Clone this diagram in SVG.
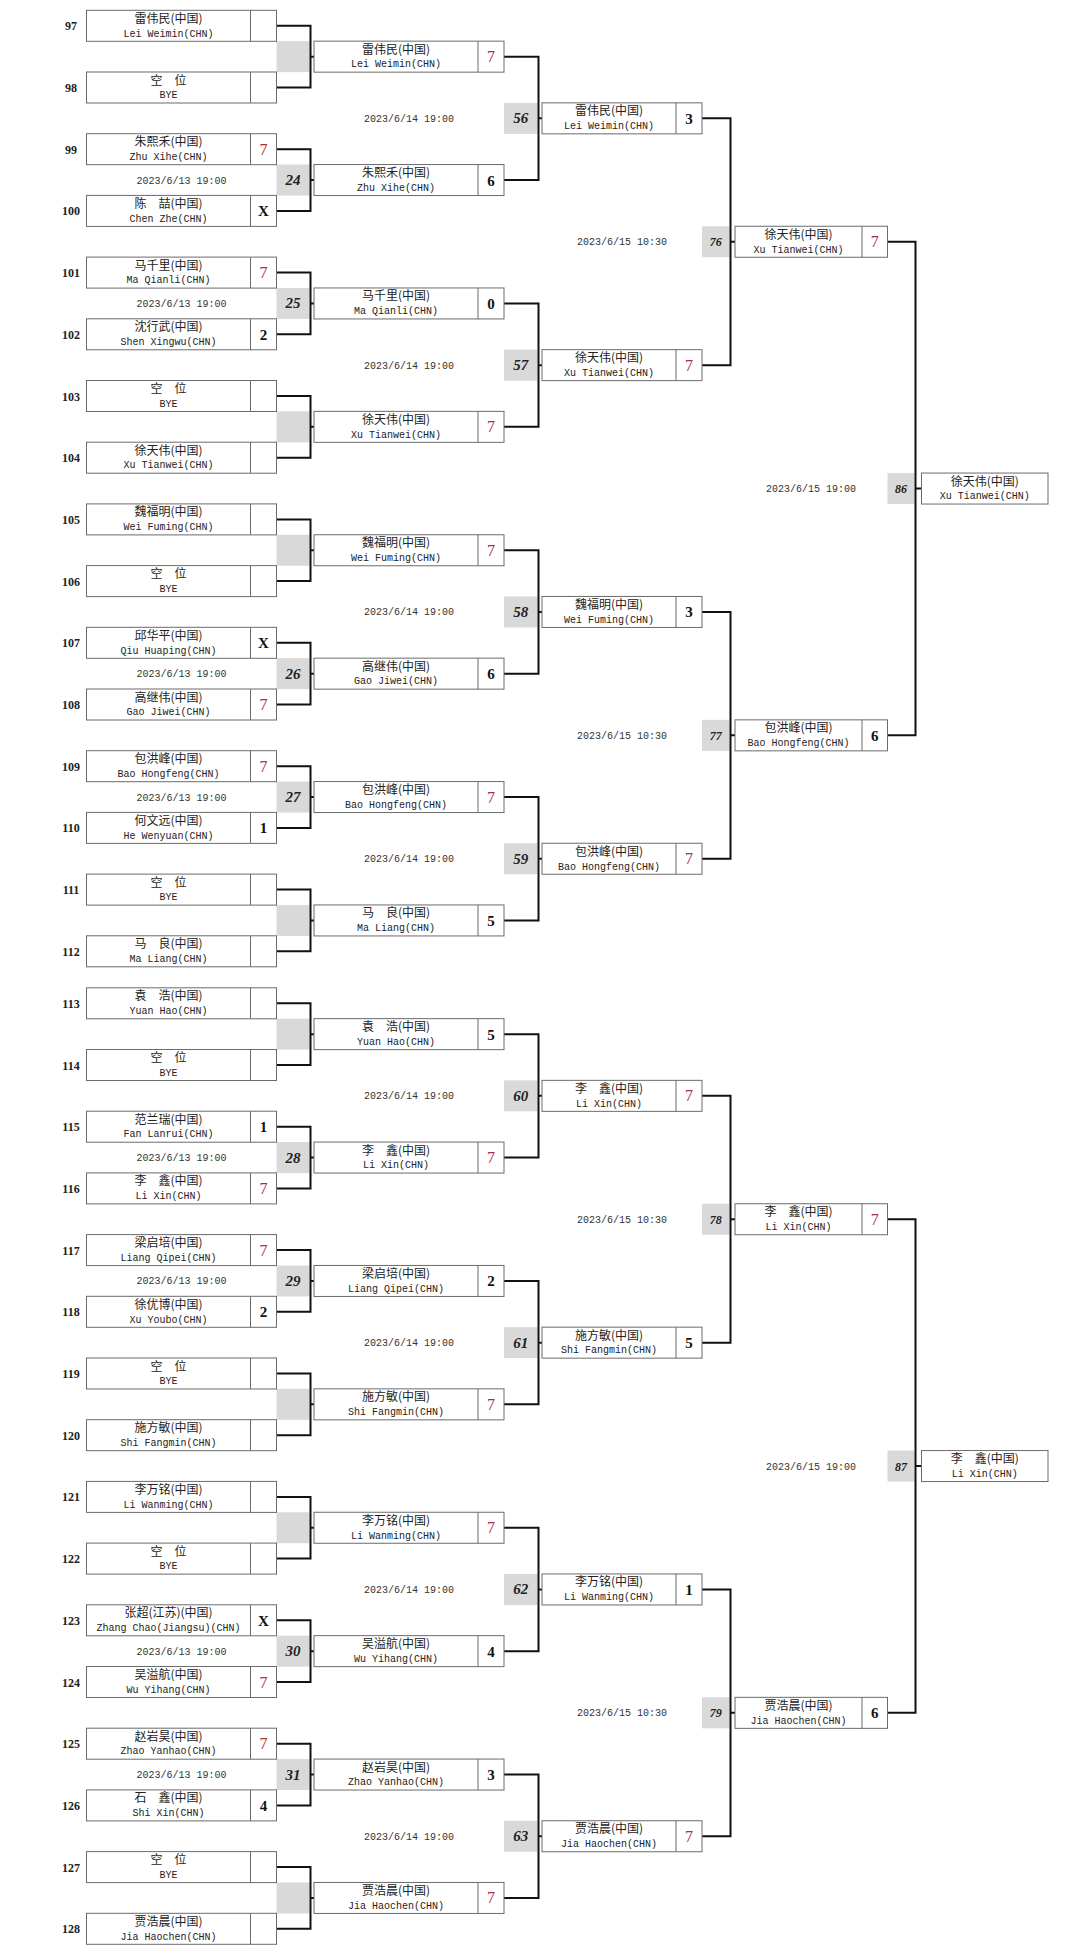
<svg xmlns="http://www.w3.org/2000/svg" width="1080" height="1960" viewBox="0 0 1080 1960">
<style>
.bx{fill:#fff;stroke:#6b6b6b;stroke-width:1}
.dv{stroke:#6b6b6b;stroke-width:1}
.cn{font-family:"Noto Sans CJK SC",sans-serif;font-size:12px;fill:#222;text-anchor:middle}
.en{font-family:"Liberation Mono",monospace;font-size:10px;fill:#222;text-anchor:middle}
.sc{font-family:"Liberation Serif",serif;font-size:15px;font-weight:bold;fill:#111;text-anchor:middle}
.r{fill:#a8323e;font-weight:normal;font-size:16px}
.sd{font-family:"Liberation Serif",serif;font-size:12px;font-weight:bold;fill:#222;text-anchor:middle}
.gr{fill:#d9d9d9}
.mn{font-family:"Liberation Serif",serif;font-size:15px;font-weight:bold;font-style:italic;fill:#222;text-anchor:middle}
.ms{font-size:12px}
.dt{font-family:"Liberation Mono",monospace;font-size:10px;fill:#333;text-anchor:middle}
.ln{fill:none;stroke:#111;stroke-width:2}
</style>
<rect width="1080" height="1960" fill="#fff"/>
<g id="match-boxes">
<rect class="gr" x="276.5" y="41.15" width="33" height="31"/>
<rect class="gr" x="276.5" y="164.55" width="33" height="31"/>
<rect class="gr" x="276.5" y="287.95" width="33" height="31"/>
<rect class="gr" x="276.5" y="411.35" width="33" height="31"/>
<rect class="gr" x="276.5" y="534.75" width="33" height="31"/>
<rect class="gr" x="276.5" y="658.15" width="33" height="31"/>
<rect class="gr" x="276.5" y="781.55" width="33" height="31"/>
<rect class="gr" x="276.5" y="904.95" width="33" height="31"/>
<rect class="gr" x="276.5" y="1018.65" width="33" height="31"/>
<rect class="gr" x="276.5" y="1142.05" width="33" height="31"/>
<rect class="gr" x="276.5" y="1265.45" width="33" height="31"/>
<rect class="gr" x="276.5" y="1388.85" width="33" height="31"/>
<rect class="gr" x="276.5" y="1512.25" width="33" height="31"/>
<rect class="gr" x="276.5" y="1635.65" width="33" height="31"/>
<rect class="gr" x="276.5" y="1759.05" width="33" height="31"/>
<rect class="gr" x="276.5" y="1882.45" width="33" height="31"/>
<rect class="gr" x="504" y="102.85" width="33.5" height="31"/>
<rect class="gr" x="504" y="349.65" width="33.5" height="31"/>
<rect class="gr" x="504" y="596.45" width="33.5" height="31"/>
<rect class="gr" x="504" y="843.25" width="33.5" height="31"/>
<rect class="gr" x="504" y="1080.35" width="33.5" height="31"/>
<rect class="gr" x="504" y="1327.15" width="33.5" height="31"/>
<rect class="gr" x="504" y="1573.95" width="33.5" height="31"/>
<rect class="gr" x="504" y="1820.75" width="33.5" height="31"/>
<rect class="gr" x="702" y="226.25" width="27.5" height="31"/>
<rect class="gr" x="702" y="719.85" width="27.5" height="31"/>
<rect class="gr" x="702" y="1203.75" width="27.5" height="31"/>
<rect class="gr" x="702" y="1697.35" width="27.5" height="31"/>
<rect class="gr" x="887.5" y="473.05" width="27" height="31"/>
<rect class="gr" x="887.5" y="1450.55" width="27" height="31"/>
<text class="mn" x="293" y="185.05">24</text>
<text class="mn" x="293" y="308.45">25</text>
<text class="mn" x="293" y="678.65">26</text>
<text class="mn" x="293" y="802.05">27</text>
<text class="mn" x="293" y="1162.55">28</text>
<text class="mn" x="293" y="1285.95">29</text>
<text class="mn" x="293" y="1656.15">30</text>
<text class="mn" x="293" y="1779.55">31</text>
<text class="mn" x="520.7" y="123.35">56</text>
<text class="mn" x="520.7" y="370.15">57</text>
<text class="mn" x="520.7" y="616.95">58</text>
<text class="mn" x="520.7" y="863.75">59</text>
<text class="mn" x="520.7" y="1100.85">60</text>
<text class="mn" x="520.7" y="1347.65">61</text>
<text class="mn" x="520.7" y="1594.45">62</text>
<text class="mn" x="520.7" y="1841.25">63</text>
<text class="mn ms" x="715.7" y="246.25">76</text>
<text class="mn ms" x="715.7" y="739.85">77</text>
<text class="mn ms" x="715.7" y="1223.75">78</text>
<text class="mn ms" x="715.7" y="1717.35">79</text>
<text class="mn ms" x="901" y="493.05">86</text>
<text class="mn ms" x="901" y="1470.55">87</text>
</g>
<g id="dates">
<text class="dt" x="181.5" y="183.55">2023/6/13 19:00</text>
<text class="dt" x="181.5" y="306.95">2023/6/13 19:00</text>
<text class="dt" x="181.5" y="677.15">2023/6/13 19:00</text>
<text class="dt" x="181.5" y="800.55">2023/6/13 19:00</text>
<text class="dt" x="181.5" y="1161.05">2023/6/13 19:00</text>
<text class="dt" x="181.5" y="1284.45">2023/6/13 19:00</text>
<text class="dt" x="181.5" y="1654.65">2023/6/13 19:00</text>
<text class="dt" x="181.5" y="1778.05">2023/6/13 19:00</text>
<text class="dt" x="409" y="121.85">2023/6/14 19:00</text>
<text class="dt" x="409" y="368.65">2023/6/14 19:00</text>
<text class="dt" x="409" y="615.45">2023/6/14 19:00</text>
<text class="dt" x="409" y="862.25">2023/6/14 19:00</text>
<text class="dt" x="409" y="1099.35">2023/6/14 19:00</text>
<text class="dt" x="409" y="1346.15">2023/6/14 19:00</text>
<text class="dt" x="409" y="1592.95">2023/6/14 19:00</text>
<text class="dt" x="409" y="1839.75">2023/6/14 19:00</text>
<text class="dt" x="622" y="245.25">2023/6/15 10:30</text>
<text class="dt" x="622" y="738.85">2023/6/15 10:30</text>
<text class="dt" x="622" y="1222.75">2023/6/15 10:30</text>
<text class="dt" x="622" y="1716.35">2023/6/15 10:30</text>
<text class="dt" x="811" y="492.05">2023/6/15 19:00</text>
<text class="dt" x="811" y="1469.55">2023/6/15 19:00</text>
</g>
<g id="connectors" class="ln">
<path d="M276.5 25.8H310.5V87.5H276.5M310.5 56.65H314"/>
<path d="M276.5 149.2H310.5V210.9H276.5M310.5 180.05H314"/>
<path d="M276.5 272.6H310.5V334.3H276.5M310.5 303.45H314"/>
<path d="M276.5 396H310.5V457.7H276.5M310.5 426.85H314"/>
<path d="M276.5 519.4H310.5V581.1H276.5M310.5 550.25H314"/>
<path d="M276.5 642.8H310.5V704.5H276.5M310.5 673.65H314"/>
<path d="M276.5 766.2H310.5V827.9H276.5M310.5 797.05H314"/>
<path d="M276.5 889.6H310.5V951.3H276.5M310.5 920.45H314"/>
<path d="M276.5 1003.3H310.5V1065H276.5M310.5 1034.15H314"/>
<path d="M276.5 1126.7H310.5V1188.4H276.5M310.5 1157.55H314"/>
<path d="M276.5 1250.1H310.5V1311.8H276.5M310.5 1280.95H314"/>
<path d="M276.5 1373.5H310.5V1435.2H276.5M310.5 1404.35H314"/>
<path d="M276.5 1496.9H310.5V1558.6H276.5M310.5 1527.75H314"/>
<path d="M276.5 1620.3H310.5V1682H276.5M310.5 1651.15H314"/>
<path d="M276.5 1743.7H310.5V1805.4H276.5M310.5 1774.55H314"/>
<path d="M276.5 1867.1H310.5V1928.8H276.5M310.5 1897.95H314"/>
<path d="M504 56.65H538.5V180.05H504M538.5 118.35H542"/>
<path d="M504 303.45H538.5V426.85H504M538.5 365.15H542"/>
<path d="M504 550.25H538.5V673.65H504M538.5 611.95H542"/>
<path d="M504 797.05H538.5V920.45H504M538.5 858.75H542"/>
<path d="M504 1034.15H538.5V1157.55H504M538.5 1095.85H542"/>
<path d="M504 1280.95H538.5V1404.35H504M538.5 1342.65H542"/>
<path d="M504 1527.75H538.5V1651.15H504M538.5 1589.45H542"/>
<path d="M504 1774.55H538.5V1897.95H504M538.5 1836.25H542"/>
<path d="M702 118.35H730.5V365.15H702M730.5 241.75H735"/>
<path d="M702 611.95H730.5V858.75H702M730.5 735.35H735"/>
<path d="M702 1095.85H730.5V1342.65H702M730.5 1219.25H735"/>
<path d="M702 1589.45H730.5V1836.25H702M730.5 1712.85H735"/>
<path d="M887.5 241.75H915.5V735.35H887.5M915.5 488.55H921.5"/>
<path d="M887.5 1219.25H915.5V1712.85H887.5M915.5 1466.05H921.5"/>
</g>
<g id="round1">
<g id="p97" transform="translate(86.5,10.3)"><rect class="bx" width="190" height="31"/><line class="dv" x1="164" y1="0" x2="164" y2="31"/><text class="sd" x="-15.5" y="20">97</text><text class="cn" x="82" y="12.5">雷伟民(中国)</text><text class="en" x="82" y="26.3">Lei Weimin(CHN)</text></g>
<g id="p98" transform="translate(86.5,72)"><rect class="bx" width="190" height="31"/><line class="dv" x1="164" y1="0" x2="164" y2="31"/><text class="sd" x="-15.5" y="20">98</text><text class="cn" x="82" y="12.5">空　位</text><text class="en" x="82" y="26.3">BYE</text></g>
<g id="p99" transform="translate(86.5,133.7)"><rect class="bx" width="190" height="31"/><line class="dv" x1="164" y1="0" x2="164" y2="31"/><text class="sd" x="-15.5" y="20">99</text><text class="cn" x="82" y="12.5">朱熙禾(中国)</text><text class="en" x="82" y="26.3">Zhu Xihe(CHN)</text><text class="sc r" x="177" y="21">7</text></g>
<g id="p100" transform="translate(86.5,195.4)"><rect class="bx" width="190" height="31"/><line class="dv" x1="164" y1="0" x2="164" y2="31"/><text class="sd" x="-15.5" y="20">100</text><text class="cn" x="82" y="12.5">陈　喆(中国)</text><text class="en" x="82" y="26.3">Chen Zhe(CHN)</text><text class="sc" x="177" y="21">X</text></g>
<g id="p101" transform="translate(86.5,257.1)"><rect class="bx" width="190" height="31"/><line class="dv" x1="164" y1="0" x2="164" y2="31"/><text class="sd" x="-15.5" y="20">101</text><text class="cn" x="82" y="12.5">马千里(中国)</text><text class="en" x="82" y="26.3">Ma Qianli(CHN)</text><text class="sc r" x="177" y="21">7</text></g>
<g id="p102" transform="translate(86.5,318.8)"><rect class="bx" width="190" height="31"/><line class="dv" x1="164" y1="0" x2="164" y2="31"/><text class="sd" x="-15.5" y="20">102</text><text class="cn" x="82" y="12.5">沈行武(中国)</text><text class="en" x="82" y="26.3">Shen Xingwu(CHN)</text><text class="sc" x="177" y="21">2</text></g>
<g id="p103" transform="translate(86.5,380.5)"><rect class="bx" width="190" height="31"/><line class="dv" x1="164" y1="0" x2="164" y2="31"/><text class="sd" x="-15.5" y="20">103</text><text class="cn" x="82" y="12.5">空　位</text><text class="en" x="82" y="26.3">BYE</text></g>
<g id="p104" transform="translate(86.5,442.2)"><rect class="bx" width="190" height="31"/><line class="dv" x1="164" y1="0" x2="164" y2="31"/><text class="sd" x="-15.5" y="20">104</text><text class="cn" x="82" y="12.5">徐天伟(中国)</text><text class="en" x="82" y="26.3">Xu Tianwei(CHN)</text></g>
<g id="p105" transform="translate(86.5,503.9)"><rect class="bx" width="190" height="31"/><line class="dv" x1="164" y1="0" x2="164" y2="31"/><text class="sd" x="-15.5" y="20">105</text><text class="cn" x="82" y="12.5">魏福明(中国)</text><text class="en" x="82" y="26.3">Wei Fuming(CHN)</text></g>
<g id="p106" transform="translate(86.5,565.6)"><rect class="bx" width="190" height="31"/><line class="dv" x1="164" y1="0" x2="164" y2="31"/><text class="sd" x="-15.5" y="20">106</text><text class="cn" x="82" y="12.5">空　位</text><text class="en" x="82" y="26.3">BYE</text></g>
<g id="p107" transform="translate(86.5,627.3)"><rect class="bx" width="190" height="31"/><line class="dv" x1="164" y1="0" x2="164" y2="31"/><text class="sd" x="-15.5" y="20">107</text><text class="cn" x="82" y="12.5">邱华平(中国)</text><text class="en" x="82" y="26.3">Qiu Huaping(CHN)</text><text class="sc" x="177" y="21">X</text></g>
<g id="p108" transform="translate(86.5,689)"><rect class="bx" width="190" height="31"/><line class="dv" x1="164" y1="0" x2="164" y2="31"/><text class="sd" x="-15.5" y="20">108</text><text class="cn" x="82" y="12.5">高继伟(中国)</text><text class="en" x="82" y="26.3">Gao Jiwei(CHN)</text><text class="sc r" x="177" y="21">7</text></g>
<g id="p109" transform="translate(86.5,750.7)"><rect class="bx" width="190" height="31"/><line class="dv" x1="164" y1="0" x2="164" y2="31"/><text class="sd" x="-15.5" y="20">109</text><text class="cn" x="82" y="12.5">包洪峰(中国)</text><text class="en" x="82" y="26.3">Bao Hongfeng(CHN)</text><text class="sc r" x="177" y="21">7</text></g>
<g id="p110" transform="translate(86.5,812.4)"><rect class="bx" width="190" height="31"/><line class="dv" x1="164" y1="0" x2="164" y2="31"/><text class="sd" x="-15.5" y="20">110</text><text class="cn" x="82" y="12.5">何文远(中国)</text><text class="en" x="82" y="26.3">He Wenyuan(CHN)</text><text class="sc" x="177" y="21">1</text></g>
<g id="p111" transform="translate(86.5,874.1)"><rect class="bx" width="190" height="31"/><line class="dv" x1="164" y1="0" x2="164" y2="31"/><text class="sd" x="-15.5" y="20">111</text><text class="cn" x="82" y="12.5">空　位</text><text class="en" x="82" y="26.3">BYE</text></g>
<g id="p112" transform="translate(86.5,935.8)"><rect class="bx" width="190" height="31"/><line class="dv" x1="164" y1="0" x2="164" y2="31"/><text class="sd" x="-15.5" y="20">112</text><text class="cn" x="82" y="12.5">马　良(中国)</text><text class="en" x="82" y="26.3">Ma Liang(CHN)</text></g>
<g id="p113" transform="translate(86.5,987.8)"><rect class="bx" width="190" height="31"/><line class="dv" x1="164" y1="0" x2="164" y2="31"/><text class="sd" x="-15.5" y="20">113</text><text class="cn" x="82" y="12.5">袁　浩(中国)</text><text class="en" x="82" y="26.3">Yuan Hao(CHN)</text></g>
<g id="p114" transform="translate(86.5,1049.5)"><rect class="bx" width="190" height="31"/><line class="dv" x1="164" y1="0" x2="164" y2="31"/><text class="sd" x="-15.5" y="20">114</text><text class="cn" x="82" y="12.5">空　位</text><text class="en" x="82" y="26.3">BYE</text></g>
<g id="p115" transform="translate(86.5,1111.2)"><rect class="bx" width="190" height="31"/><line class="dv" x1="164" y1="0" x2="164" y2="31"/><text class="sd" x="-15.5" y="20">115</text><text class="cn" x="82" y="12.5">范兰瑞(中国)</text><text class="en" x="82" y="26.3">Fan Lanrui(CHN)</text><text class="sc" x="177" y="21">1</text></g>
<g id="p116" transform="translate(86.5,1172.9)"><rect class="bx" width="190" height="31"/><line class="dv" x1="164" y1="0" x2="164" y2="31"/><text class="sd" x="-15.5" y="20">116</text><text class="cn" x="82" y="12.5">李　鑫(中国)</text><text class="en" x="82" y="26.3">Li Xin(CHN)</text><text class="sc r" x="177" y="21">7</text></g>
<g id="p117" transform="translate(86.5,1234.6)"><rect class="bx" width="190" height="31"/><line class="dv" x1="164" y1="0" x2="164" y2="31"/><text class="sd" x="-15.5" y="20">117</text><text class="cn" x="82" y="12.5">梁启培(中国)</text><text class="en" x="82" y="26.3">Liang Qipei(CHN)</text><text class="sc r" x="177" y="21">7</text></g>
<g id="p118" transform="translate(86.5,1296.3)"><rect class="bx" width="190" height="31"/><line class="dv" x1="164" y1="0" x2="164" y2="31"/><text class="sd" x="-15.5" y="20">118</text><text class="cn" x="82" y="12.5">徐优博(中国)</text><text class="en" x="82" y="26.3">Xu Youbo(CHN)</text><text class="sc" x="177" y="21">2</text></g>
<g id="p119" transform="translate(86.5,1358)"><rect class="bx" width="190" height="31"/><line class="dv" x1="164" y1="0" x2="164" y2="31"/><text class="sd" x="-15.5" y="20">119</text><text class="cn" x="82" y="12.5">空　位</text><text class="en" x="82" y="26.3">BYE</text></g>
<g id="p120" transform="translate(86.5,1419.7)"><rect class="bx" width="190" height="31"/><line class="dv" x1="164" y1="0" x2="164" y2="31"/><text class="sd" x="-15.5" y="20">120</text><text class="cn" x="82" y="12.5">施方敏(中国)</text><text class="en" x="82" y="26.3">Shi Fangmin(CHN)</text></g>
<g id="p121" transform="translate(86.5,1481.4)"><rect class="bx" width="190" height="31"/><line class="dv" x1="164" y1="0" x2="164" y2="31"/><text class="sd" x="-15.5" y="20">121</text><text class="cn" x="82" y="12.5">李万铭(中国)</text><text class="en" x="82" y="26.3">Li Wanming(CHN)</text></g>
<g id="p122" transform="translate(86.5,1543.1)"><rect class="bx" width="190" height="31"/><line class="dv" x1="164" y1="0" x2="164" y2="31"/><text class="sd" x="-15.5" y="20">122</text><text class="cn" x="82" y="12.5">空　位</text><text class="en" x="82" y="26.3">BYE</text></g>
<g id="p123" transform="translate(86.5,1604.8)"><rect class="bx" width="190" height="31"/><line class="dv" x1="164" y1="0" x2="164" y2="31"/><text class="sd" x="-15.5" y="20">123</text><text class="cn" x="82" y="12.5">张超(江苏)(中国)</text><text class="en" x="82" y="26.3">Zhang Chao(Jiangsu)(CHN)</text><text class="sc" x="177" y="21">X</text></g>
<g id="p124" transform="translate(86.5,1666.5)"><rect class="bx" width="190" height="31"/><line class="dv" x1="164" y1="0" x2="164" y2="31"/><text class="sd" x="-15.5" y="20">124</text><text class="cn" x="82" y="12.5">吴溢航(中国)</text><text class="en" x="82" y="26.3">Wu Yihang(CHN)</text><text class="sc r" x="177" y="21">7</text></g>
<g id="p125" transform="translate(86.5,1728.2)"><rect class="bx" width="190" height="31"/><line class="dv" x1="164" y1="0" x2="164" y2="31"/><text class="sd" x="-15.5" y="20">125</text><text class="cn" x="82" y="12.5">赵岩昊(中国)</text><text class="en" x="82" y="26.3">Zhao Yanhao(CHN)</text><text class="sc r" x="177" y="21">7</text></g>
<g id="p126" transform="translate(86.5,1789.9)"><rect class="bx" width="190" height="31"/><line class="dv" x1="164" y1="0" x2="164" y2="31"/><text class="sd" x="-15.5" y="20">126</text><text class="cn" x="82" y="12.5">石　鑫(中国)</text><text class="en" x="82" y="26.3">Shi Xin(CHN)</text><text class="sc" x="177" y="21">4</text></g>
<g id="p127" transform="translate(86.5,1851.6)"><rect class="bx" width="190" height="31"/><line class="dv" x1="164" y1="0" x2="164" y2="31"/><text class="sd" x="-15.5" y="20">127</text><text class="cn" x="82" y="12.5">空　位</text><text class="en" x="82" y="26.3">BYE</text></g>
<g id="p128" transform="translate(86.5,1913.3)"><rect class="bx" width="190" height="31"/><line class="dv" x1="164" y1="0" x2="164" y2="31"/><text class="sd" x="-15.5" y="20">128</text><text class="cn" x="82" y="12.5">贾浩晨(中国)</text><text class="en" x="82" y="26.3">Jia Haochen(CHN)</text></g>
</g>
<g id="round2">
<g id="r2-1" transform="translate(314,41.15)"><rect class="bx" width="190" height="31"/><line class="dv" x1="164" y1="0" x2="164" y2="31"/><text class="cn" x="82" y="12.5">雷伟民(中国)</text><text class="en" x="82" y="26.3">Lei Weimin(CHN)</text><text class="sc r" x="177" y="21">7</text></g>
<g id="r2-2" transform="translate(314,164.55)"><rect class="bx" width="190" height="31"/><line class="dv" x1="164" y1="0" x2="164" y2="31"/><text class="cn" x="82" y="12.5">朱熙禾(中国)</text><text class="en" x="82" y="26.3">Zhu Xihe(CHN)</text><text class="sc" x="177" y="21">6</text></g>
<g id="r2-3" transform="translate(314,287.95)"><rect class="bx" width="190" height="31"/><line class="dv" x1="164" y1="0" x2="164" y2="31"/><text class="cn" x="82" y="12.5">马千里(中国)</text><text class="en" x="82" y="26.3">Ma Qianli(CHN)</text><text class="sc" x="177" y="21">0</text></g>
<g id="r2-4" transform="translate(314,411.35)"><rect class="bx" width="190" height="31"/><line class="dv" x1="164" y1="0" x2="164" y2="31"/><text class="cn" x="82" y="12.5">徐天伟(中国)</text><text class="en" x="82" y="26.3">Xu Tianwei(CHN)</text><text class="sc r" x="177" y="21">7</text></g>
<g id="r2-5" transform="translate(314,534.75)"><rect class="bx" width="190" height="31"/><line class="dv" x1="164" y1="0" x2="164" y2="31"/><text class="cn" x="82" y="12.5">魏福明(中国)</text><text class="en" x="82" y="26.3">Wei Fuming(CHN)</text><text class="sc r" x="177" y="21">7</text></g>
<g id="r2-6" transform="translate(314,658.15)"><rect class="bx" width="190" height="31"/><line class="dv" x1="164" y1="0" x2="164" y2="31"/><text class="cn" x="82" y="12.5">高继伟(中国)</text><text class="en" x="82" y="26.3">Gao Jiwei(CHN)</text><text class="sc" x="177" y="21">6</text></g>
<g id="r2-7" transform="translate(314,781.55)"><rect class="bx" width="190" height="31"/><line class="dv" x1="164" y1="0" x2="164" y2="31"/><text class="cn" x="82" y="12.5">包洪峰(中国)</text><text class="en" x="82" y="26.3">Bao Hongfeng(CHN)</text><text class="sc r" x="177" y="21">7</text></g>
<g id="r2-8" transform="translate(314,904.95)"><rect class="bx" width="190" height="31"/><line class="dv" x1="164" y1="0" x2="164" y2="31"/><text class="cn" x="82" y="12.5">马　良(中国)</text><text class="en" x="82" y="26.3">Ma Liang(CHN)</text><text class="sc" x="177" y="21">5</text></g>
<g id="r2-9" transform="translate(314,1018.65)"><rect class="bx" width="190" height="31"/><line class="dv" x1="164" y1="0" x2="164" y2="31"/><text class="cn" x="82" y="12.5">袁　浩(中国)</text><text class="en" x="82" y="26.3">Yuan Hao(CHN)</text><text class="sc" x="177" y="21">5</text></g>
<g id="r2-10" transform="translate(314,1142.05)"><rect class="bx" width="190" height="31"/><line class="dv" x1="164" y1="0" x2="164" y2="31"/><text class="cn" x="82" y="12.5">李　鑫(中国)</text><text class="en" x="82" y="26.3">Li Xin(CHN)</text><text class="sc r" x="177" y="21">7</text></g>
<g id="r2-11" transform="translate(314,1265.45)"><rect class="bx" width="190" height="31"/><line class="dv" x1="164" y1="0" x2="164" y2="31"/><text class="cn" x="82" y="12.5">梁启培(中国)</text><text class="en" x="82" y="26.3">Liang Qipei(CHN)</text><text class="sc" x="177" y="21">2</text></g>
<g id="r2-12" transform="translate(314,1388.85)"><rect class="bx" width="190" height="31"/><line class="dv" x1="164" y1="0" x2="164" y2="31"/><text class="cn" x="82" y="12.5">施方敏(中国)</text><text class="en" x="82" y="26.3">Shi Fangmin(CHN)</text><text class="sc r" x="177" y="21">7</text></g>
<g id="r2-13" transform="translate(314,1512.25)"><rect class="bx" width="190" height="31"/><line class="dv" x1="164" y1="0" x2="164" y2="31"/><text class="cn" x="82" y="12.5">李万铭(中国)</text><text class="en" x="82" y="26.3">Li Wanming(CHN)</text><text class="sc r" x="177" y="21">7</text></g>
<g id="r2-14" transform="translate(314,1635.65)"><rect class="bx" width="190" height="31"/><line class="dv" x1="164" y1="0" x2="164" y2="31"/><text class="cn" x="82" y="12.5">吴溢航(中国)</text><text class="en" x="82" y="26.3">Wu Yihang(CHN)</text><text class="sc" x="177" y="21">4</text></g>
<g id="r2-15" transform="translate(314,1759.05)"><rect class="bx" width="190" height="31"/><line class="dv" x1="164" y1="0" x2="164" y2="31"/><text class="cn" x="82" y="12.5">赵岩昊(中国)</text><text class="en" x="82" y="26.3">Zhao Yanhao(CHN)</text><text class="sc" x="177" y="21">3</text></g>
<g id="r2-16" transform="translate(314,1882.45)"><rect class="bx" width="190" height="31"/><line class="dv" x1="164" y1="0" x2="164" y2="31"/><text class="cn" x="82" y="12.5">贾浩晨(中国)</text><text class="en" x="82" y="26.3">Jia Haochen(CHN)</text><text class="sc r" x="177" y="21">7</text></g>
</g>
<g id="round3">
<g id="r3-56" transform="translate(542,102.85)"><rect class="bx" width="160" height="31"/><line class="dv" x1="134" y1="0" x2="134" y2="31"/><text class="cn" x="67" y="12.5">雷伟民(中国)</text><text class="en" x="67" y="26.3">Lei Weimin(CHN)</text><text class="sc" x="147" y="21">3</text></g>
<g id="r3-57" transform="translate(542,349.65)"><rect class="bx" width="160" height="31"/><line class="dv" x1="134" y1="0" x2="134" y2="31"/><text class="cn" x="67" y="12.5">徐天伟(中国)</text><text class="en" x="67" y="26.3">Xu Tianwei(CHN)</text><text class="sc r" x="147" y="21">7</text></g>
<g id="r3-58" transform="translate(542,596.45)"><rect class="bx" width="160" height="31"/><line class="dv" x1="134" y1="0" x2="134" y2="31"/><text class="cn" x="67" y="12.5">魏福明(中国)</text><text class="en" x="67" y="26.3">Wei Fuming(CHN)</text><text class="sc" x="147" y="21">3</text></g>
<g id="r3-59" transform="translate(542,843.25)"><rect class="bx" width="160" height="31"/><line class="dv" x1="134" y1="0" x2="134" y2="31"/><text class="cn" x="67" y="12.5">包洪峰(中国)</text><text class="en" x="67" y="26.3">Bao Hongfeng(CHN)</text><text class="sc r" x="147" y="21">7</text></g>
<g id="r3-60" transform="translate(542,1080.35)"><rect class="bx" width="160" height="31"/><line class="dv" x1="134" y1="0" x2="134" y2="31"/><text class="cn" x="67" y="12.5">李　鑫(中国)</text><text class="en" x="67" y="26.3">Li Xin(CHN)</text><text class="sc r" x="147" y="21">7</text></g>
<g id="r3-61" transform="translate(542,1327.15)"><rect class="bx" width="160" height="31"/><line class="dv" x1="134" y1="0" x2="134" y2="31"/><text class="cn" x="67" y="12.5">施方敏(中国)</text><text class="en" x="67" y="26.3">Shi Fangmin(CHN)</text><text class="sc" x="147" y="21">5</text></g>
<g id="r3-62" transform="translate(542,1573.95)"><rect class="bx" width="160" height="31"/><line class="dv" x1="134" y1="0" x2="134" y2="31"/><text class="cn" x="67" y="12.5">李万铭(中国)</text><text class="en" x="67" y="26.3">Li Wanming(CHN)</text><text class="sc" x="147" y="21">1</text></g>
<g id="r3-63" transform="translate(542,1820.75)"><rect class="bx" width="160" height="31"/><line class="dv" x1="134" y1="0" x2="134" y2="31"/><text class="cn" x="67" y="12.5">贾浩晨(中国)</text><text class="en" x="67" y="26.3">Jia Haochen(CHN)</text><text class="sc r" x="147" y="21">7</text></g>
</g>
<g id="round4">
<g id="r4-76" transform="translate(735,226.25)"><rect class="bx" width="152.5" height="31"/><line class="dv" x1="127" y1="0" x2="127" y2="31"/><text class="cn" x="63.5" y="12.5">徐天伟(中国)</text><text class="en" x="63.5" y="26.3">Xu Tianwei(CHN)</text><text class="sc r" x="139.75" y="21">7</text></g>
<g id="r4-77" transform="translate(735,719.85)"><rect class="bx" width="152.5" height="31"/><line class="dv" x1="127" y1="0" x2="127" y2="31"/><text class="cn" x="63.5" y="12.5">包洪峰(中国)</text><text class="en" x="63.5" y="26.3">Bao Hongfeng(CHN)</text><text class="sc" x="139.75" y="21">6</text></g>
<g id="r4-78" transform="translate(735,1203.75)"><rect class="bx" width="152.5" height="31"/><line class="dv" x1="127" y1="0" x2="127" y2="31"/><text class="cn" x="63.5" y="12.5">李　鑫(中国)</text><text class="en" x="63.5" y="26.3">Li Xin(CHN)</text><text class="sc r" x="139.75" y="21">7</text></g>
<g id="r4-79" transform="translate(735,1697.35)"><rect class="bx" width="152.5" height="31"/><line class="dv" x1="127" y1="0" x2="127" y2="31"/><text class="cn" x="63.5" y="12.5">贾浩晨(中国)</text><text class="en" x="63.5" y="26.3">Jia Haochen(CHN)</text><text class="sc" x="139.75" y="21">6</text></g>
</g>
<g id="round5">
<g id="r5-86" transform="translate(921.5,473.05)"><rect class="bx" width="126.5" height="31"/><text class="cn" x="63.25" y="12.5">徐天伟(中国)</text><text class="en" x="63.25" y="26.3">Xu Tianwei(CHN)</text></g>
<g id="r5-87" transform="translate(921.5,1450.55)"><rect class="bx" width="126.5" height="31"/><text class="cn" x="63.25" y="12.5">李　鑫(中国)</text><text class="en" x="63.25" y="26.3">Li Xin(CHN)</text></g>
</g>
</svg>
